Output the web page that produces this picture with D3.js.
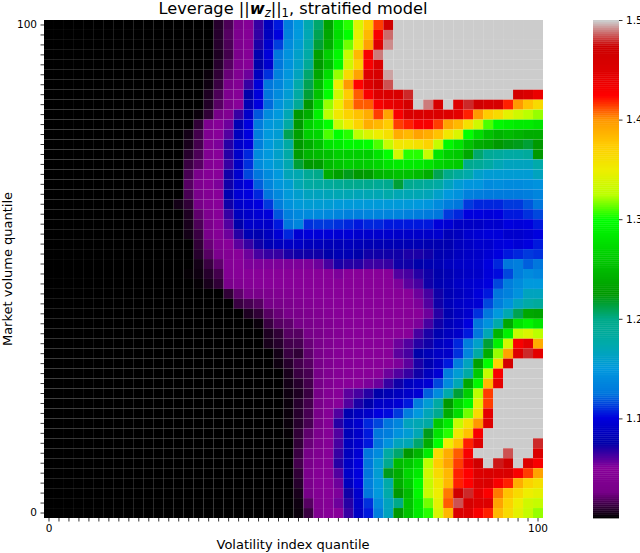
<!DOCTYPE html>
<html>
<head>
<meta charset="utf-8">
<script src="https://cdn.jsdelivr.net/npm/d3@7"></script>
<style>
html,body{margin:0;padding:0;background:#fff}
svg{display:block}
text{font-family:"DejaVu Sans",sans-serif;fill:#000}
</style>
</head>
<body>
<svg id="chart" width="640" height="553"></svg>
<script>
// Leverage above 1.0 in thousandths, top row (quantile 100) first, left to right.
const excessRows = [
[0,0,0,0,0,0,0,0,0,0,0,0,0,0,0,0,0,8,16,32,45,65,85,105,130,150,172,205,232,280,305,340,375,415,470,500,500,500,500,500,500,500,500,500,500,500,500,500,500,500],
[0,0,0,0,0,0,0,0,0,0,0,0,0,0,0,0,0,8,18,35,45,66,85,100,132,150,170,210,235,275,300,345,385,430,488,500,500,500,500,500,500,500,500,500,500,500,500,500,500,500],
[0,0,0,0,0,0,0,0,0,0,0,0,0,0,0,0,0,8,16,35,45,70,92,113,140,155,175,215,240,280,315,350,395,450,492,500,500,500,500,500,500,500,500,500,500,500,500,500,500,500],
[0,0,0,0,0,0,0,0,0,0,0,0,0,0,0,0,0,6,14,33,45,77,98,125,145,160,178,230,265,295,330,385,430,490,500,500,500,500,500,500,500,500,500,500,500,500,500,500,500,500],
[0,0,0,0,0,0,0,0,0,0,0,0,0,0,0,0,0,8,18,38,48,75,92,125,145,160,190,225,250,295,335,370,430,455,500,500,500,500,500,500,500,500,500,500,500,500,500,500,500,500],
[0,0,0,0,0,0,0,0,0,0,0,0,0,0,0,0,2,10,22,40,55,85,110,132,148,165,205,235,275,320,365,395,450,460,495,500,500,500,500,500,500,500,500,500,500,500,500,500,500,500],
[0,0,0,0,0,0,0,0,0,0,0,0,0,0,0,0,3,12,28,43,65,97,125,135,152,175,210,250,295,350,400,425,450,470,485,500,500,500,500,500,500,500,500,500,500,500,500,500,500,500],
[0,0,0,0,0,0,0,0,0,0,0,0,0,0,0,0,6,16,35,47,75,98,125,140,155,180,215,255,300,335,375,410,430,450,455,458,480,500,500,500,500,500,500,500,500,500,500,465,455,440],
[0,0,0,0,0,0,0,0,0,0,0,0,0,0,0,0,7,18,33,50,80,100,122,145,160,190,225,270,320,350,385,410,410,430,440,445,465,500,490,460,500,450,480,470,460,460,420,400,380,365],
[0,0,0,0,0,0,0,0,0,0,0,0,0,0,0,2,10,25,40,65,90,118,140,150,170,225,240,290,325,355,370,380,390,415,395,430,455,455,455,455,450,445,420,400,375,365,345,335,325,320],
[0,0,0,0,0,0,0,0,0,0,0,0,0,0,0,10,35,48,55,80,100,128,148,155,180,225,265,280,300,330,350,370,390,385,375,415,420,430,430,415,395,385,360,335,310,295,290,285,285,280],
[0,0,0,0,0,0,0,0,0,0,0,0,0,0,4,14,38,50,60,85,100,130,150,155,210,230,265,270,310,300,305,325,340,350,360,390,385,395,390,380,355,340,300,275,255,245,250,245,240,240],
[0,0,0,0,0,0,0,0,0,0,0,0,0,0,5,14,40,52,68,90,98,130,150,160,180,225,240,255,280,285,295,295,300,310,330,355,355,360,370,330,295,280,255,240,235,225,222,220,215,225],
[0,0,0,0,0,0,0,0,0,0,0,0,0,0,8,16,40,50,68,90,108,140,150,160,178,228,245,250,255,265,265,265,265,280,300,335,305,305,330,280,265,260,235,205,190,185,180,180,185,225],
[0,0,0,0,0,0,0,0,0,0,0,0,0,0,12,18,42,50,65,88,110,140,150,158,172,215,225,228,250,258,265,262,265,270,280,285,285,285,280,270,265,262,195,190,180,170,165,165,165,175],
[0,0,0,0,0,0,0,0,0,0,0,0,0,0,15,30,45,50,72,92,115,125,140,150,168,172,190,198,240,230,220,225,228,245,250,255,255,250,240,210,198,185,175,160,155,155,155,155,155,165],
[0,0,0,0,0,0,0,0,0,0,0,0,0,0,18,35,47,52,72,92,100,120,135,148,155,170,180,182,185,190,195,195,195,190,195,215,195,190,185,180,165,155,148,148,140,142,140,140,142,145],
[0,0,0,0,0,0,0,0,0,0,0,0,0,0,15,30,42,50,78,95,100,108,125,138,152,158,165,165,168,170,170,168,170,170,175,170,170,170,168,160,150,145,132,130,128,128,128,128,130,135],
[0,0,0,0,0,0,0,0,0,0,0,0,0,4,10,25,42,50,72,90,95,100,112,130,145,152,155,155,155,152,152,152,152,152,152,152,152,150,148,140,130,125,112,108,108,108,112,112,118,125],
[0,0,0,0,0,0,0,0,0,0,0,0,0,0,6,20,35,48,65,85,90,95,98,118,132,138,140,140,138,135,132,132,135,135,135,135,132,130,128,125,112,108,100,100,98,100,105,105,110,115],
[0,0,0,0,0,0,0,0,0,0,0,0,0,0,5,16,30,48,60,75,90,90,90,105,125,135,110,112,112,110,108,105,108,108,105,105,105,105,105,98,95,88,88,88,92,92,100,98,100,105],
[0,0,0,0,0,0,0,0,0,0,0,0,0,0,4,12,30,45,55,68,80,78,85,95,108,95,98,97,97,95,96,92,92,92,92,90,90,90,90,92,82,85,92,95,98,98,92,92,95,100],
[0,0,0,0,0,0,0,0,0,0,0,0,0,0,0,10,22,40,50,58,65,72,80,85,88,88,84,84,82,82,84,82,80,80,80,80,80,80,78,78,78,85,88,92,92,98,100,96,100,105],
[0,0,0,0,0,0,0,0,0,0,0,0,0,0,0,8,18,32,42,50,55,62,65,65,70,72,72,72,75,80,80,75,72,72,72,72,70,70,72,78,80,85,88,90,95,100,105,108,112,110],
[0,0,0,0,0,0,0,0,0,0,0,0,0,0,0,4,12,20,46,50,52,52,52,52,52,52,52,55,62,70,68,68,64,64,65,72,72,75,78,80,85,88,90,92,100,108,125,130,120,125],
[0,0,0,0,0,0,0,0,0,0,0,0,0,0,1,3,8,14,42,48,50,50,50,50,50,50,50,50,50,52,50,50,50,50,50,60,62,68,72,76,80,85,88,90,98,102,115,130,140,135],
[0,0,0,0,0,0,0,0,0,0,0,0,0,0,0,1,5,10,30,40,45,48,50,50,50,50,50,50,50,50,50,50,50,50,50,52,58,62,72,78,82,88,92,95,100,115,130,140,150,150],
[0,0,0,0,0,0,0,0,0,0,0,0,0,0,0,0,0,0,10,20,28,30,35,40,42,45,48,50,50,50,50,50,50,50,50,48,50,55,62,72,80,85,90,98,105,125,132,145,165,165],
[0,0,0,0,0,0,0,0,0,0,0,0,0,0,0,0,0,0,0,12,15,18,25,28,32,38,42,45,48,50,50,50,50,50,50,50,50,52,60,72,82,88,92,95,115,130,145,165,178,185],
[0,0,0,0,0,0,0,0,0,0,0,0,0,0,0,0,0,0,0,0,6,10,18,22,28,30,35,40,45,48,50,50,50,50,50,50,48,50,55,68,78,86,92,110,125,150,172,210,235,232],
[0,0,0,0,0,0,0,0,0,0,0,0,0,0,0,0,0,0,0,0,0,2,12,18,20,25,30,35,40,45,48,50,50,50,50,50,48,52,62,72,82,88,100,125,145,175,235,280,292,280],
[0,0,0,0,0,0,0,0,0,0,0,0,0,0,0,0,0,0,0,0,0,0,6,10,18,18,25,30,38,42,48,50,50,50,50,50,50,62,70,78,85,90,105,125,170,245,290,330,340,325],
[0,0,0,0,0,0,0,0,0,0,0,0,0,0,0,0,0,0,0,0,0,0,5,8,14,15,22,30,38,45,48,50,50,50,50,55,60,68,72,85,90,108,130,160,215,290,335,430,445,390],
[0,0,0,0,0,0,0,0,0,0,0,0,0,0,0,0,0,0,0,0,0,0,0,4,12,10,20,28,38,45,48,50,50,50,50,58,62,75,82,88,90,110,135,180,240,320,395,450,480,445],
[0,0,0,0,0,0,0,0,0,0,0,0,0,0,0,0,0,0,0,0,0,0,0,3,8,14,18,26,38,45,48,50,50,50,50,52,58,70,78,88,105,130,165,230,300,370,465,500,500,500],
[0,0,0,0,0,0,0,0,0,0,0,0,0,0,0,0,0,0,0,0,0,0,0,0,5,12,15,25,38,45,48,50,50,50,55,60,65,72,85,95,130,155,180,260,330,430,500,500,500,500],
[0,0,0,0,0,0,0,0,0,0,0,0,0,0,0,0,0,0,0,0,0,0,0,0,4,8,14,25,40,48,50,50,52,55,65,72,85,90,95,115,140,170,235,295,385,445,500,500,500,500],
[0,0,0,0,0,0,0,0,0,0,0,0,0,0,0,0,0,0,0,0,0,0,0,0,3,6,12,25,42,48,58,62,68,75,80,85,90,95,120,140,175,215,265,325,415,500,500,500,500,500],
[0,0,0,0,0,0,0,0,0,0,0,0,0,0,0,0,0,0,0,0,0,0,0,0,2,8,14,28,42,50,60,70,75,88,90,95,105,130,155,180,225,270,295,345,415,500,500,500,500,500],
[0,0,0,0,0,0,0,0,0,0,0,0,0,0,0,0,0,0,0,0,0,0,0,0,2,8,15,28,45,60,78,85,90,100,102,112,130,150,168,195,240,275,315,365,445,500,500,500,500,500],
[0,0,0,0,0,0,0,0,0,0,0,0,0,0,0,0,0,0,0,0,0,0,0,0,2,8,15,28,45,68,85,92,108,115,125,135,165,170,180,260,285,330,360,400,450,500,500,500,500,500],
[0,0,0,0,0,0,0,0,0,0,0,0,0,0,0,0,0,0,0,0,0,0,0,0,1,10,20,32,45,60,82,90,105,125,130,145,155,170,220,280,305,355,380,430,500,500,500,500,500,500],
[0,0,0,0,0,0,0,0,0,0,0,0,0,0,0,0,0,0,0,0,0,0,0,0,0,10,22,35,45,62,85,92,105,125,145,165,170,205,240,300,350,380,420,450,500,500,500,500,500,480],
[0,0,0,0,0,0,0,0,0,0,0,0,0,0,0,0,0,0,0,0,0,0,0,0,0,12,25,38,48,65,85,95,125,140,180,205,225,245,285,365,390,410,430,500,500,500,485,500,500,455],
[0,0,0,0,0,0,0,0,0,0,0,0,0,0,0,0,0,0,0,0,0,0,0,0,0,14,28,42,48,68,88,100,125,155,195,250,258,275,325,375,395,415,440,470,500,478,470,500,450,430],
[0,0,0,0,0,0,0,0,0,0,0,0,0,0,0,0,0,0,0,0,0,0,0,0,0,10,32,45,48,60,90,100,125,155,220,240,270,285,335,365,385,420,425,450,455,455,455,430,415,395],
[0,0,0,0,0,0,0,0,0,0,0,0,0,0,0,0,0,0,0,0,0,0,0,0,0,8,30,45,50,55,85,100,130,150,175,240,262,298,330,355,385,420,425,450,455,430,420,390,370,360],
[0,0,0,0,0,0,0,0,0,0,0,0,0,0,0,0,0,0,0,0,0,0,0,0,0,5,25,42,48,52,72,92,125,150,175,225,250,295,330,350,405,470,480,445,428,405,380,365,350,345],
[0,0,0,0,0,0,0,0,0,0,0,0,0,0,0,0,0,0,0,0,0,0,0,0,0,3,18,40,45,55,68,90,110,140,165,200,255,285,315,345,410,485,460,450,450,395,370,350,335,330],
[0,0,0,0,0,0,0,0,0,0,0,0,0,0,0,0,0,0,0,0,0,0,0,0,0,2,12,38,48,50,65,88,105,130,165,225,255,285,305,340,385,455,450,430,420,385,365,345,330,320]
];
const firstTickLabels = {0: "0", 49: "100"};
const colorbarTicks = [1.1, 1.2, 1.3, 1.4, 1.5];
const titleStart = "Leverage ||";
const titleEnd = ", stratified model";
const xLabel = "Volatility index quantile";
const yLabel = "Market volume quantile";
// nipy_spectral colour stops
const cmapStops = ["#000000","#770088","#880099","#0000aa","#0000dd","#0077dd","#0099dd","#00aaaa","#00aa88","#009900","#00bb00","#00dd00","#00ff00","#bbff00","#eeee00","#ffcc00","#ff9900","#ff0000","#dd0000","#cc0000","#cccccc"];

const vmin = 1.0, vmax = 1.5;
const cols = d3.range(excessRows[0].length);
const rows = d3.range(excessRows.length);
const svg = d3.select("#chart");

const plot = {left: 44, right: 543, top: 20, bottom: 518};
const x = d3.scaleBand().domain(cols).range([plot.left, plot.right]).padding(0);
const y = d3.scaleBand().domain(rows).range([plot.top, plot.bottom]).padding(0);
const color = d3.scaleLinear()
  .domain(cmapStops.map((_, i) => vmin + (vmax - vmin) * i / (cmapStops.length - 1)))
  .range(cmapStops).interpolate(d3.interpolateRgb).clamp(true);

const cells = [];
excessRows.forEach((row, r) => row.forEach((m, c) => cells.push({r, c, v: 1 + m / 1000})));
svg.append("g").selectAll("rect").data(cells).join("rect")
  .attr("x", d => x(d.c)).attr("y", d => y(d.r))
  .attr("width", x.bandwidth()).attr("height", y.bandwidth())
  .attr("fill", d => color(d.v));

const xAxis = d3.axisBottom(x).tickSize(3.5).tickPadding(3.5)
  .tickFormat(c => firstTickLabels[c] || "");
const yAxis = d3.axisLeft(y).tickSize(3.5).tickPadding(3.5)
  .tickFormat(r => firstTickLabels[49 - r] || "");
const gx = svg.append("g").attr("transform", `translate(0,${plot.bottom})`).call(xAxis);
const gy = svg.append("g").attr("transform", `translate(${plot.left},0)`).call(yAxis);
[gx, gy].forEach(g => {
  g.select(".domain").remove();
  g.selectAll("line").attr("stroke", "#000").attr("stroke-width", 0.8);
  g.selectAll("text").style("font-size", "10.5px").style("font-family", '"DejaVu Sans"').attr("fill", "#000");
});

// Colour bar
const cb = {left: 593, right: 619};
const cbY = d3.scaleLinear().domain([vmin, vmax]).range([plot.bottom, plot.top]);
const levels = d3.range(0, 256).map(i => vmin + (vmax - vmin) * i / 255);
const stepH = (plot.bottom - plot.top) / 256;
svg.append("g").selectAll("rect").data(levels).join("rect")
  .attr("x", cb.left).attr("width", cb.right - cb.left)
  .attr("y", (d, i) => plot.bottom - (i + 1) * stepH)
  .attr("height", stepH + 0.4)
  .attr("fill", d => color(d));
const cAxis = d3.axisRight(cbY).tickValues(colorbarTicks).tickSize(3.5).tickPadding(3.5).tickFormat(d3.format(".1f"));
const gc = svg.append("g").attr("transform", `translate(${cb.right},0)`).call(cAxis);
gc.select(".domain").remove();
gc.selectAll("line").attr("stroke", "#000").attr("stroke-width", 0.8);
gc.selectAll("text").style("font-size", "10.5px").style("font-family", '"DejaVu Sans"').attr("fill", "#000");

// Title and axis labels
const title = svg.append("text").attr("x", 293).attr("y", 14).attr("text-anchor", "middle").style("font-size", "16.2px");
title.append("tspan").text(titleStart);
title.append("tspan").style("font-weight", "bold").style("font-style", "italic").text("w");
title.append("tspan").attr("dy", 3).style("font-size", "11.5px").style("font-style", "italic").text("z");
title.append("tspan").attr("dy", -3).text("||");
title.append("tspan").attr("dy", 3).style("font-size", "11.5px").text("1");
title.append("tspan").attr("dy", -3).text(titleEnd);

svg.append("text").attr("x", 293).attr("y", 549).attr("text-anchor", "middle").style("font-size", "13px").text(xLabel);
svg.append("text").attr("transform", "translate(12,269) rotate(-90)").attr("text-anchor", "middle").style("font-size", "13px").text(yLabel);
</script>
</body>
</html>
